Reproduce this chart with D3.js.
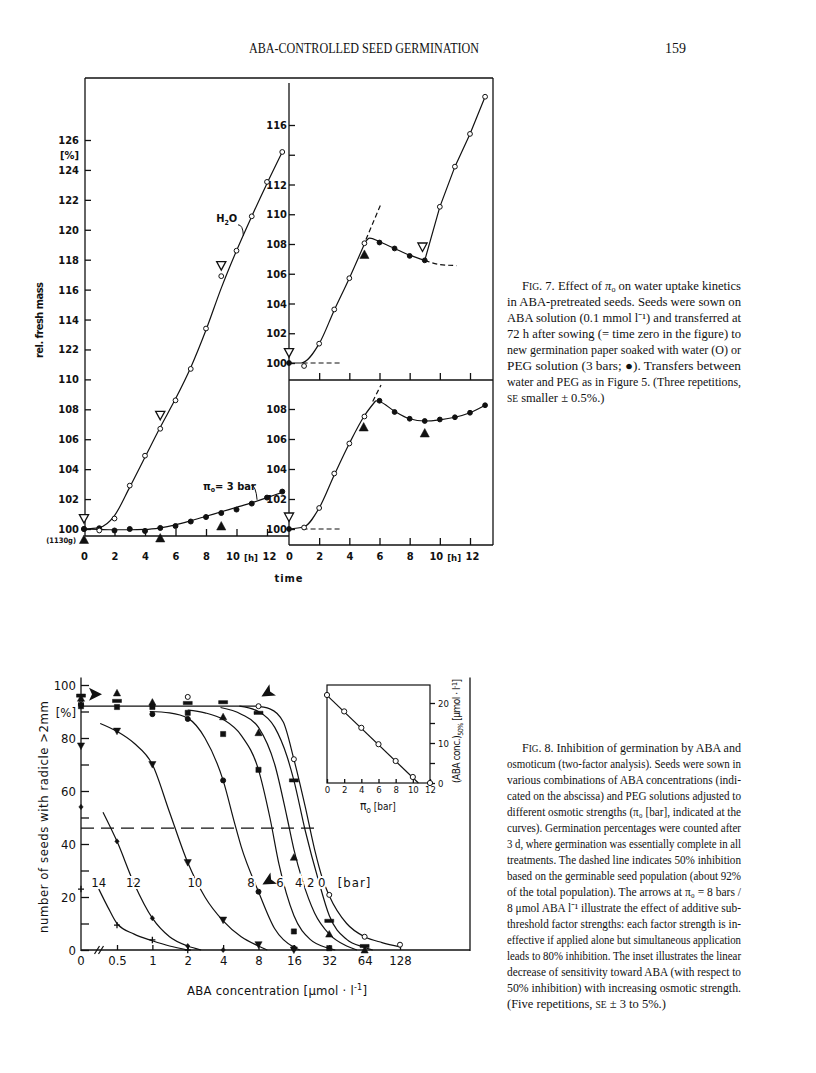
<!DOCTYPE html>
<meta charset="utf-8" />
<style>
    body { margin: 0; background: #fff; }
    text { fill: #111; }
    .t7 { font: bold 11px "DejaVu Sans Condensed", "DejaVu Sans"; }
    .t8 { font: 13px "DejaVu Sans Condensed", "DejaVu Sans"; }
    .ti { font: 9.5px "DejaVu Sans Condensed", "DejaVu Sans"; }
    .cap { font: 12.5px "Liberation Serif"; }
</style>
<title>ABA-controlled seed germination</title>
<body></body>
<script src="https://cdnjs.cloudflare.com/ajax/libs/d3/7.8.5/d3.min.js"></script>
<script>

    // ---------- Fig. 7 : relative fresh mass (%) vs time (h) ----------
    var hours = [0, 1, 2, 3, 4, 5, 6, 7, 8, 9, 10, 11, 12, 13];

    // left panel: water (open) and PEG 3 bar (filled)
    var waterL = [100, 99.9, 100.7, 102.9, 104.9, 106.7, 108.6, 110.7, 113.4, 116.9, 118.6, 120.9, 123.2, 125.2];
    var pegL = [100, 100.05, 99.9, 100, 99.87, 100.07, 100.2, 100.5, 100.8, 101.07, 101.3, 101.7, 102.1, 102.5];
    var waterFitL = [100, 100.1, 100.9, 102.8, 104.8, 106.8, 108.7, 110.8, 113.3, 116.1, 118.6, 120.9, 123.1, 125.2];
    var pegFitL = [100, 99.97, 99.95, 99.95, 99.97, 100.08, 100.28, 100.55, 100.85, 101.15, 101.45, 101.75, 102.1, 102.45];
    var openTriL = [[0, 100.7], [5, 107.6], [9, 117.6]];
    var fillTriL = [[0, 99.3], [5, 99.4], [9, 100.2]];
    var yTicksL = [100, 102, 104, 106, 108, 110, 112, 114, 116, 118, 120, 122, 124, 126];
    var yLabelsL = ["100", "102", "104", "106", "108", "110", "122", "114", "116", "118", "120", "122", "124", "126"];
    var hourTicks = [0, 2, 4, 6, 8, 10, 12];

    // top right panel: water -> PEG at 5 h -> water at 9 h
    var rtValues = [100, 99.8, 101.3, 103.6, 105.7, 108.05, 108.1, 107.7, 107.2, 106.9, 110.5, 113.2, 115.4, 117.9];
    var rtFilled = [1, 0, 0, 0, 0, 0, 1, 1, 1, 1, 0, 0, 0, 0];
    var rtWaterFit = [[0, 100], [0.8, 100], [2, 101.3], [3, 103.55], [4, 105.7], [5, 108.0]];
    var rtPegFit = [[5, 108.05], [5.35, 108.4], [6, 108.15], [7, 107.7], [8, 107.25], [9, 106.9]];
    var rtWater2Fit = [[9, 106.9], [10, 110.5], [11, 113.2], [12, 115.4], [13, 117.9]];
    var rtDashUp = [[5.1, 108.3], [6.1, 110.7]];
    var rtDashPeg = [[9, 106.9], [10, 106.62], [11.1, 106.55]];
    var rtOpenTri = [[0, 100.7], [8.85, 107.8]];
    var rtFillTri = [[5, 107.3]];
    var yTicksRT = [100, 102, 104, 106, 108, 110, 112, 114, 116];
    var yLabelsRT = ["100", "102", "104", "106", "108", "110", "112", "", "116"];

    // bottom right panel: water -> PEG at 5 h
    var rbValues = [100, 100.1, 101.4, 103.7, 105.7, 107.5, 108.55, 107.8, 107.35, 107.2, 107.3, 107.45, 107.75, 108.25];
    var rbFilled = [1, 0, 0, 0, 0, 0, 1, 1, 1, 1, 1, 1, 1, 1];
    var rbWaterFit = [[0, 100], [1, 100.15], [2, 101.4], [3, 103.6], [4, 105.7], [5, 107.55], [5.75, 108.55]];
    var rbPegFit = [[5.75, 108.55], [6, 108.5], [7, 107.85], [8, 107.35], [9, 107.2], [10, 107.28], [11, 107.45], [12, 107.75], [13, 108.25]];
    var rbDashUp = [[5.55, 108.5], [6.1, 109.6]];
    var rbOpenTri = [[0, 100.8]];
    var rbFillTri = [[4.95, 106.8], [9, 106.4]];
    var yTicksRB = [100, 102, 104, 106, 108];
    var baseDash = [[0.9, 100], [3.45, 100]];

    // ---------- Fig. 8 : germination (%) vs ABA (µmol/l) ----------
    var abaTicks = [0.5, 1, 2, 4, 8, 16, 32, 64, 128];
    var abaLabels = ["0.5", "1", "2", "4", "8", "16", "32", "64", "128"];
    var pctTicks = [0, 10, 20, 30, 40, 50, 60, 70, 80, 90, 100];
    // measured points [ABA, %] for each osmotic strength (bar); ABA 0 sits on the axis
    var pts0 = [[0, 93], [2, 95.5], [8, 92], [16, 72], [32, 20.8], [64, 5], [128, 2]];
    var pts2 = [[0, 96], [0.5, 94], [2, 93.2], [4, 93.5], [8, 89.5], [16, 64], [32, 11], [64, 1.5]];
    var pts4 = [[0, 95], [0.5, 97], [1, 93.5], [4, 88], [8, 82], [16, 35], [32, 6], [64, 0]];
    var pts6 = [[0, 92], [0.5, 91.7], [1, 91.7], [2, 89.5], [4, 81.5], [8, 68], [16, 7], [32, 0.7]];
    var pts8 = [[0, 92.5], [1, 89], [2, 87.2], [4, 64], [8, 22], [16, 0.7]];
    var pts10 = [[0, 77], [0.5, 82.6], [1, 70], [2, 33], [4, 11.3], [8, 2], [16, 0]];
    var pts12 = [[0, 54], [0.5, 41], [1, 12], [2, 1.5], [4, 0]];
    var pts14 = [[0, 23], [0.5, 9.4], [1, 3.8], [2, 0]];
    // drawn curves
    var fit0 = [[7.5, 92], [10, 91], [13, 86], [16, 72], [20, 54], [24, 38], [28, 27], [32, 20.5], [45, 10], [64, 5], [90, 2.8], [128, 1.2]];
    var fit2 = [[5.5, 92], [8, 90], [11, 84], [14, 73], [16, 64], [20, 45], [26, 26], [32, 13], [45, 4], [64, 1], [75, 0]];
    var fit4 = [[3.8, 91.5], [5.7, 89], [8, 84], [11, 70], [14, 50], [16, 38], [19, 26], [24, 14], [32, 6], [45, 1.5], [55, 0]];
    var fit6 = [[2, 90.5], [2.8, 89.5], [4, 87], [5.7, 81], [8, 68], [10, 50], [12, 32], [16, 13], [22, 4], [32, 0.6], [36, 0]];
    var fit8 = [[0.95, 90], [1.4, 89.5], [2, 87.5], [2.8, 80], [4, 64], [5, 48], [5.7, 39], [8, 22], [11, 8], [16, 1], [18, 0]];
    var fit10 = [[0.36, 85.5], [0.5, 82.5], [0.7, 78], [1, 70], [1.4, 52], [2, 33], [2.8, 20], [4, 11], [5.7, 5], [8, 1.5], [9.5, 0]];
    var fit12 = [[0.38, 52], [0.5, 41], [0.7, 25], [1, 12], [1.4, 5], [2, 1.5], [2.6, 0]];
    var fit14 = [[0.35, 23], [0.42, 16], [0.5, 10], [0.7, 6], [1, 3.5], [1.4, 1.5], [2, 0]];
    var barNames = ["0", "2", "4", "6", "8", "10", "12", "14"];
    var labelAba = [27.6, 22.3, 17.6, 12.2, 6.9, 2.3, 0.69, 0.35];
    var labelPct = 25.6;
    var plateau = 92, halfLine = 46;

    // inset: ABA for 50 % inhibition vs osmotic strength
    var insetBar = [0, 2, 4, 6, 8, 10, 12];
    var insetAba = [22, 17.9, 13.8, 9.7, 5.5, 1.5, 0];
    var insetFit = [[0, 21.9], [10.65, 0]];

    var cap7 = [
        "in ABA-pretreated seeds. Seeds were sown on",
        "ABA solution (0.1 mmol l\u207B\u00B9) and transferred at",
        "72 h after sowing (= time zero in the figure) to",
        "new germination paper soaked with water (O) or",
        "PEG solution (3 bars; \u25CF). Transfers between",
        "water and PEG as in Figure 5. (Three repetitions,"
    ];
    var cap8 = [
        "osmoticum (two-factor analysis). Seeds were sown in",
        "various combinations of ABA concentrations (indi-",
        "cated on the abscissa) and PEG solutions adjusted to",
        "different osmotic strengths (\u03C0\u2080 [bar], indicated at the",
        "curves). Germination percentages were counted after",
        "3 d, where germination was essentially complete in all",
        "treatments. The dashed line indicates 50% inhibition",
        "based on the germinable seed population (about 92%",
        "of the total population). The arrows at \u03C0\u2080 = 8 bars /",
        "8 \u03BCmol ABA l\u207B\u00B9 illustrate the effect of additive sub-",
        "threshold factor strengths: each factor strength is in-",
        "effective if applied alone but simultaneous application",
        "leads to 80% inhibition. The inset illustrates the linear",
        "decrease of sensitivity toward ABA (with respect to",
        "50% inhibition) with increasing osmotic strength."
    ];

    var svg = d3.select("body").append("svg")
        .attr("width", 816).attr("height", 1073)
        .style("background", "#fff");

    // marker shapes
    var shapes = {
        triUp: "M0,-4.5L4.6,4L-4.6,4Z",
        triDown: "M0,4.5L4.6,-4L-4.6,-4Z",
        tUp: "M0,-3.6L3.6,3L-3.6,3Z",
        tDown: "M0,3.6L3.6,-3L-3.6,-3Z",
        square: "M-2.6,-2.6h5.2v5.2h-5.2Z",
        bar: "M-4.5,-1.6h9v3.2h-9Z",
        diamond: "M0,-2.6L2.2,0L0,2.6L-2.2,0Z",
        plus: "M-3,0H3M0,-3.2V3.2"
    };

    function line(xs, ys, curve) {
        return d3.line().x(function (d) { return xs(d[0]); }).y(function (d) { return ys(d[1]); })
            .curve(curve || d3.curveMonotoneX);
    }
    function seg(data, xs, ys, dash, curve) {
        svg.append("path").datum(data)
            .attr("d", line(xs, ys, curve))
            .attr("fill", "none").attr("stroke", "#111").attr("stroke-width", 1.2)
            .attr("stroke-dasharray", dash || null);
    }
    function dots(data, xs, ys, filledFn, r) {
        svg.append("g").selectAll("circle").data(data).enter().append("circle")
            .attr("cx", function (d) { return xs(d[0]); })
            .attr("cy", function (d) { return ys(d[1]); })
            .attr("r", r || 2.4)
            .attr("fill", function (d, i) { return filledFn(d, i) ? "#111" : "#fff"; })
            .attr("stroke", "#111").attr("stroke-width", 1);
    }
    function syms(data, xs, ys, shape, open) {
        svg.append("g").selectAll("path").data(data).enter().append("path")
            .attr("transform", function (d) { return "translate(" + xs(d[0]) + "," + ys(d[1]) + ")"; })
            .attr("d", shapes[shape])
            .attr("fill", open ? "#fff" : (shape == "plus" ? "none" : "#111"))
            .attr("stroke", "#111").attr("stroke-width", open ? 1.3 : (shape == "plus" ? 1.3 : 0.5));
    }
    function rule(x1, y1, x2, y2) {
        svg.append("line").attr("x1", x1).attr("y1", y1).attr("x2", x2).attr("y2", y2)
            .attr("stroke", "#111").attr("stroke-width", 1.3);
    }
    function styleAxis(g, cls) {
        g.select(".domain").remove();
        g.attr("font-family", null).attr("font-size", null).attr("class", cls);
        g.selectAll("line").attr("stroke", "#111").attr("stroke-width", 1.3);
        g.selectAll("text").attr("fill", "#111");
        return g;
    }

    // ================= Fig. 7 =================
    var xL = d3.scaleLinear().domain([0, 12]).range([84, 267]);
    var xR = d3.scaleLinear().domain([0, 12]).range([289, 470]);
    var yL = d3.scaleLinear().domain([100, 126]).range([529, 140]);
    var yRT = d3.scaleLinear().domain([100, 116]).range([363, 125]);
    var yRB = d3.scaleLinear().domain([100, 108]).range([529, 409]);

    // frame
    rule(85, 78, 493, 78);
    rule(85, 78, 85, 536);
    rule(493, 78, 493, 545);
    rule(289, 83, 289, 545);
    rule(85, 536, 289, 536);
    rule(289, 380, 493, 380);
    rule(289, 545, 493, 545);

    styleAxis(svg.append("g").attr("transform", "translate(85,0)")
        .call(d3.axisLeft(yL).tickValues(yTicksL).tickSizeInner(-6).tickSizeOuter(0).tickPadding(6)
            .tickFormat(function (d, i) { return yLabelsL[i]; })), "t7");
    styleAxis(svg.append("g").attr("transform", "translate(289,0)")
        .call(d3.axisLeft(yRT).tickValues(yTicksRT).tickSizeInner(-6).tickSizeOuter(0).tickPadding(2)
            .tickFormat(function (d, i) { return yLabelsRT[i]; })), "t7");
    styleAxis(svg.append("g").attr("transform", "translate(289,0)")
        .call(d3.axisLeft(yRB).tickValues(yTicksRB).tickSizeInner(-6).tickSizeOuter(0).tickPadding(2)), "t7");

    var bl = styleAxis(svg.append("g").attr("transform", "translate(0,536)")
        .call(d3.axisBottom(xL).tickValues(hourTicks).tickSizeInner(-7).tickSizeOuter(0).tickPadding(16)), "t7");
    var br = styleAxis(svg.append("g").attr("transform", "translate(0,545)")
        .call(d3.axisBottom(xR).tickValues(hourTicks).tickSizeInner(-7).tickSizeOuter(0).tickPadding(7)), "t7");
    [bl, br].forEach(function (g) {
        g.selectAll(".tick").filter(function (d) { return d === 0; }).select("line").remove();
        g.selectAll(".tick text").filter(function (d) { return d === 10; }).attr("dx", "-4");
        g.selectAll(".tick text").filter(function (d) { return d === 12; }).attr("dx", "2");
    });
    styleAxis(svg.append("g").attr("transform", "translate(0,380)")
        .call(d3.axisBottom(xR).tickValues(hourTicks.slice(1)).tickSizeInner(-7).tickSizeOuter(0).tickFormat("")), "t7");

    // "[h]" unit between 10 and 12
    [xL, xR].forEach(function (xs) {
        svg.append("text").attr("class", "t7").attr("x", xs(10.95)).attr("y", 561)
            .attr("text-anchor", "middle").style("font-size", "9.5px").text("[h]");
    });

    svg.append("text").attr("class", "t7").attr("x", 79).attr("y", yL(125) + 4)
        .attr("text-anchor", "end").text("[%]");
    svg.append("text").attr("class", "t7").attr("x", 76).attr("y", 543)
        .attr("text-anchor", "end").style("font-size", "7.5px").text("(1130g)");
    svg.append("text").attr("class", "t7").attr("transform", "translate(43,320) rotate(-90)")
        .attr("text-anchor", "middle").attr("textLength", 76).text("rel. fresh mass");
    svg.append("text").attr("class", "t7").attr("x", xR(0)).attr("y", 582)
        .attr("text-anchor", "middle").attr("letter-spacing", "1px").text("time");

    // left panel lines and points
    var hv = function (arr) { return hours.map(function (h, i) { return [h, arr[i]]; }); };
    seg(hv(waterFitL), xL, yL);
    seg(hv(pegFitL), xL, yL);
    dots(hv(pegL), xL, yL, function () { return true; }, 2.5);
    dots(hv(waterL), xL, yL, function (d, i) { return i === 0; }, 2.4);
    syms(openTriL, xL, yL, "triDown", true);
    syms(fillTriL, xL, yL, "triUp", false);

    // labels with little leaders
    svg.append("text").attr("class", "t7").attr("x", xL(10.05)).attr("y", yL(120.5))
        .attr("text-anchor", "end").html("H<tspan dy='3' font-size='7'>2</tspan><tspan dy='-3'>O</tspan>");
    svg.append("path").attr("d", "M" + xL(10.1) + "," + (yL(120.4) + 1) + "q5,0 " + (xL(10.45) - xL(10.1)) + "," + (yL(119.6) - yL(120.4) - 1))
        .attr("fill", "none").attr("stroke", "#111").attr("stroke-width", 1);
    svg.append("text").attr("class", "t7").attr("x", xL(7.8)).attr("y", yL(102.6))
        .html("\u03C0<tspan dy='2' font-size='7'>o</tspan><tspan dy='-2'>= 3 bar</tspan>");
    svg.append("path").attr("d", "M" + xL(10.95) + "," + yL(102.95) + "q5,1 " + (xL(11.35) - xL(10.95)) + "," + (yL(101.95) - yL(102.95)))
        .attr("fill", "none").attr("stroke", "#111").attr("stroke-width", 1);

    // top right panel
    seg(rtWaterFit, xR, yRT);
    seg(rtPegFit, xR, yRT);
    seg(rtWater2Fit, xR, yRT, null, d3.curveLinear);
    seg(rtDashUp, xR, yRT, "5,3", d3.curveLinear);
    seg(rtDashPeg, xR, yRT, "5,3");
    seg(baseDash, xR, yRT, "5,3", d3.curveLinear);
    dots(hv(rtValues), xR, yRT, function (d, i) { return rtFilled[i]; }, 2.4);
    syms(rtOpenTri, xR, yRT, "triDown", true);
    syms(rtFillTri, xR, yRT, "triUp", false);

    // bottom right panel
    seg(rbWaterFit, xR, yRB);
    seg(rbPegFit, xR, yRB);
    seg(rbDashUp, xR, yRB, "5,3", d3.curveLinear);
    seg(baseDash, xR, yRB, "5,3", d3.curveLinear);
    dots(hv(rbValues), xR, yRB, function (d, i) { return rbFilled[i]; }, 2.4);
    syms(rbOpenTri, xR, yRB, "triDown", true);
    syms(rbFillTri, xR, yRB, "triUp", false);

    // ================= Fig. 8 =================
    var x0 = 81;    // position of ABA = 0 (left axis)
    var xA = d3.scaleLog().base(2).domain([0.5, 128]).range([117, 400]);
    var yP = d3.scaleLinear().domain([0, 100]).range([950, 685]);
    var xa = function (c) { return c === 0 ? x0 : xA(c); };

    rule(x0, yP(102.8), x0, yP(0) + 1);
    rule(x0, yP(0), 470, yP(0));
    rule(470, yP(102.8), 470, yP(0) + 1);
    // axis break
    [-2, 2].forEach(function (o) {
        var bx = (x0 + xA(0.5)) / 2 + o;
        svg.append("line").attr("x1", bx - 2.5).attr("y1", yP(0) + 4).attr("x2", bx + 2.5).attr("y2", yP(0) - 4)
            .attr("stroke", "#111").attr("stroke-width", 1.2);
    });

    styleAxis(svg.append("g").attr("transform", "translate(" + x0 + ",0)")
        .call(d3.axisLeft(yP).tickValues(pctTicks).tickSizeInner(-8).tickSizeOuter(0).tickPadding(5)
            .tickFormat(function (d) { return d % 20 === 0 ? d : ""; })), "t8");
    styleAxis(svg.append("g").attr("transform", "translate(0," + yP(0) + ")")
        .call(d3.axisBottom(xA).tickValues(abaTicks).tickSizeInner(-5).tickSizeOuter(0).tickPadding(6)
            .tickFormat(function (d, i) { return abaLabels[i]; })), "t8");
    svg.append("text").attr("class", "t8").attr("x", x0).attr("y", yP(0) + 6).attr("dy", "0.71em")
        .attr("text-anchor", "middle").text("0");
    svg.append("text").attr("class", "t8").attr("x", 76).attr("y", yP(90) + 5)
        .attr("text-anchor", "end").text("[%]");
    svg.append("text").attr("class", "t8").attr("transform", "translate(48,817) rotate(-90)")
        .attr("text-anchor", "middle").attr("textLength", 232).text("number of seeds with radicle >2mm");
    svg.append("text").attr("class", "t8").attr("x", 187).attr("y", 995)
        .attr("textLength", 180).html("ABA concentration [\u03BCmol \u00B7 l<tspan dy='-5' font-size='9'>-1</tspan><tspan dy='5'>]</tspan>");

    // plateau and 50 % line
    seg([[0, plateau], [7.5, plateau]], xa, yP, null, d3.curveLinear);
    seg([[0, halfLine], [25, halfLine]], xa, yP, "13,7", d3.curveLinear);

    var fits = [fit0, fit2, fit4, fit6, fit8, fit10, fit12, fit14];
    fits.forEach(function (f) { seg(f, xA, yP); });

    // curve labels (mask the curve underneath)
    svg.append("g").selectAll("text").data(barNames).enter().append("text")
        .attr("class", "t8")
        .attr("x", function (d, i) { return xA(labelAba[i]); })
        .attr("y", yP(labelPct) + 5)
        .attr("text-anchor", "middle")
        .attr("stroke", "#fff").attr("stroke-width", 4).attr("paint-order", "stroke")
        .text(function (d) { return d; });
    svg.append("text").attr("class", "t8").attr("x", xA(37.8)).attr("y", yP(labelPct) + 5)
        .attr("letter-spacing", "1px").text("[bar]");

    var ptsAll = [pts0, pts2, pts4, pts6, pts8, pts10, pts12, pts14];
    var ptsShape = ["open", "bar", "tUp", "square", "fill", "tDown", "diamond", "plus"];
    ptsAll.forEach(function (p, k) {
        var s = ptsShape[k];
        if (s === "open" || s === "fill") dots(p, xa, yP, function () { return s === "fill"; }, 2.5);
        else syms(p, xa, yP, s, false);
    });

    // arrows marking pi = 8 bar / 8 umol
    var arrow = "M7,0L-6,-6.5L-3,0L-6,6.5Z";
    var arrows = [[0, 96.5, 0, 14, 0], [8, 95.5, 150, 9, -4], [8, 26, 150, 10, 0]];
    svg.append("g").selectAll("path").data(arrows).enter().append("path")
        .attr("transform", function (d) {
            return "translate(" + (xa(d[0]) + d[3]) + "," + (yP(d[1]) + d[4]) + ") rotate(" + d[2] + ")";
        })
        .attr("d", arrow).attr("fill", "#111");

    // inset
    var xI = d3.scaleLinear().domain([0, 12]).range([327, 430]);
    var yI = d3.scaleLinear().domain([0, 20]).range([783, 703]);
    svg.append("rect").attr("x", 327).attr("y", 685).attr("width", 103).attr("height", 98)
        .attr("fill", "#fff").attr("stroke", "#111").attr("stroke-width", 1.2);
    styleAxis(svg.append("g").attr("transform", "translate(0,783)")
        .call(d3.axisBottom(xI).tickValues(insetBar).tickSizeInner(-4).tickSizeOuter(0).tickPadding(3)), "ti");
    styleAxis(svg.append("g").attr("transform", "translate(430,0)")
        .call(d3.axisRight(yI).tickValues([0, 5, 10, 15, 20]).tickSizeInner(5).tickSizeOuter(0).tickPadding(3)
            .tickFormat(function (d) { return d % 10 === 0 ? d : ""; })), "ti");
    seg(insetFit, xI, yI, null, d3.curveLinear);
    dots(insetBar.map(function (b, i) { return [b, insetAba[i]]; }), xI, yI, function () { return false; }, 2.6);
    svg.append("text").attr("class", "ti").attr("x", 360).attr("y", 810)
        .style("font-size", "12px").html("\u03C0<tspan dy='3' font-size='8'>o</tspan><tspan dy='-3' font-size='10'> [bar]</tspan>");
    svg.append("text").attr("class", "ti").attr("transform", "translate(460,731) rotate(-90)")
        .attr("text-anchor", "middle").style("font-size", "10px").attr("textLength", 104)
        .html("(ABA conc.)<tspan dy='3' font-size='7'>50%</tspan><tspan dy='-3'>  [\u03BCmol \u00B7 l</tspan><tspan dy='-3' font-size='7'>-1</tspan><tspan dy='3'>]</tspan>");

    // ================= page text =================
    svg.append("text").attr("class", "cap").attr("x", 249).attr("y", 53).style("font-size", "14px")
        .attr("textLength", 230).attr("lengthAdjust", "spacingAndGlyphs").text("ABA-CONTROLLED SEED GERMINATION");
    svg.append("text").attr("class", "cap").attr("x", 665).attr("y", 53).style("font-size", "14px").text("159");

    function caption(first, lines, last, y0) {
        var g = svg.append("g").attr("class", "cap");
        g.append("text").attr("x", 522).attr("y", y0).attr("textLength", 219)
            .attr("lengthAdjust", "spacingAndGlyphs").html(first);
        lines.forEach(function (s, i) {
            g.append("text").attr("x", 507).attr("y", y0 + 16 * (i + 1)).attr("textLength", 234)
                .attr("lengthAdjust", "spacingAndGlyphs").text(s);
        });
        g.append("text").attr("x", 507).attr("y", y0 + 16 * (lines.length + 1)).html(last);
    }
    caption("F<tspan font-size='9.5'>IG</tspan>. 7. Effect of <tspan font-style='italic'>\u03C0</tspan><tspan font-size='8' dy='2'>o</tspan><tspan dy='-2'> on water uptake kinetics</tspan>",
        cap7, "<tspan font-size='9.5'>SE</tspan> smaller \u00B1 0.5%.)", 290);
    caption("F<tspan font-size='9.5'>IG</tspan>. 8. Inhibition of germination by ABA and",
        cap8, "(Five repetitions, <tspan font-size='9.5'>SE</tspan> \u00B1 3 to 5%.)", 752);

</script>
